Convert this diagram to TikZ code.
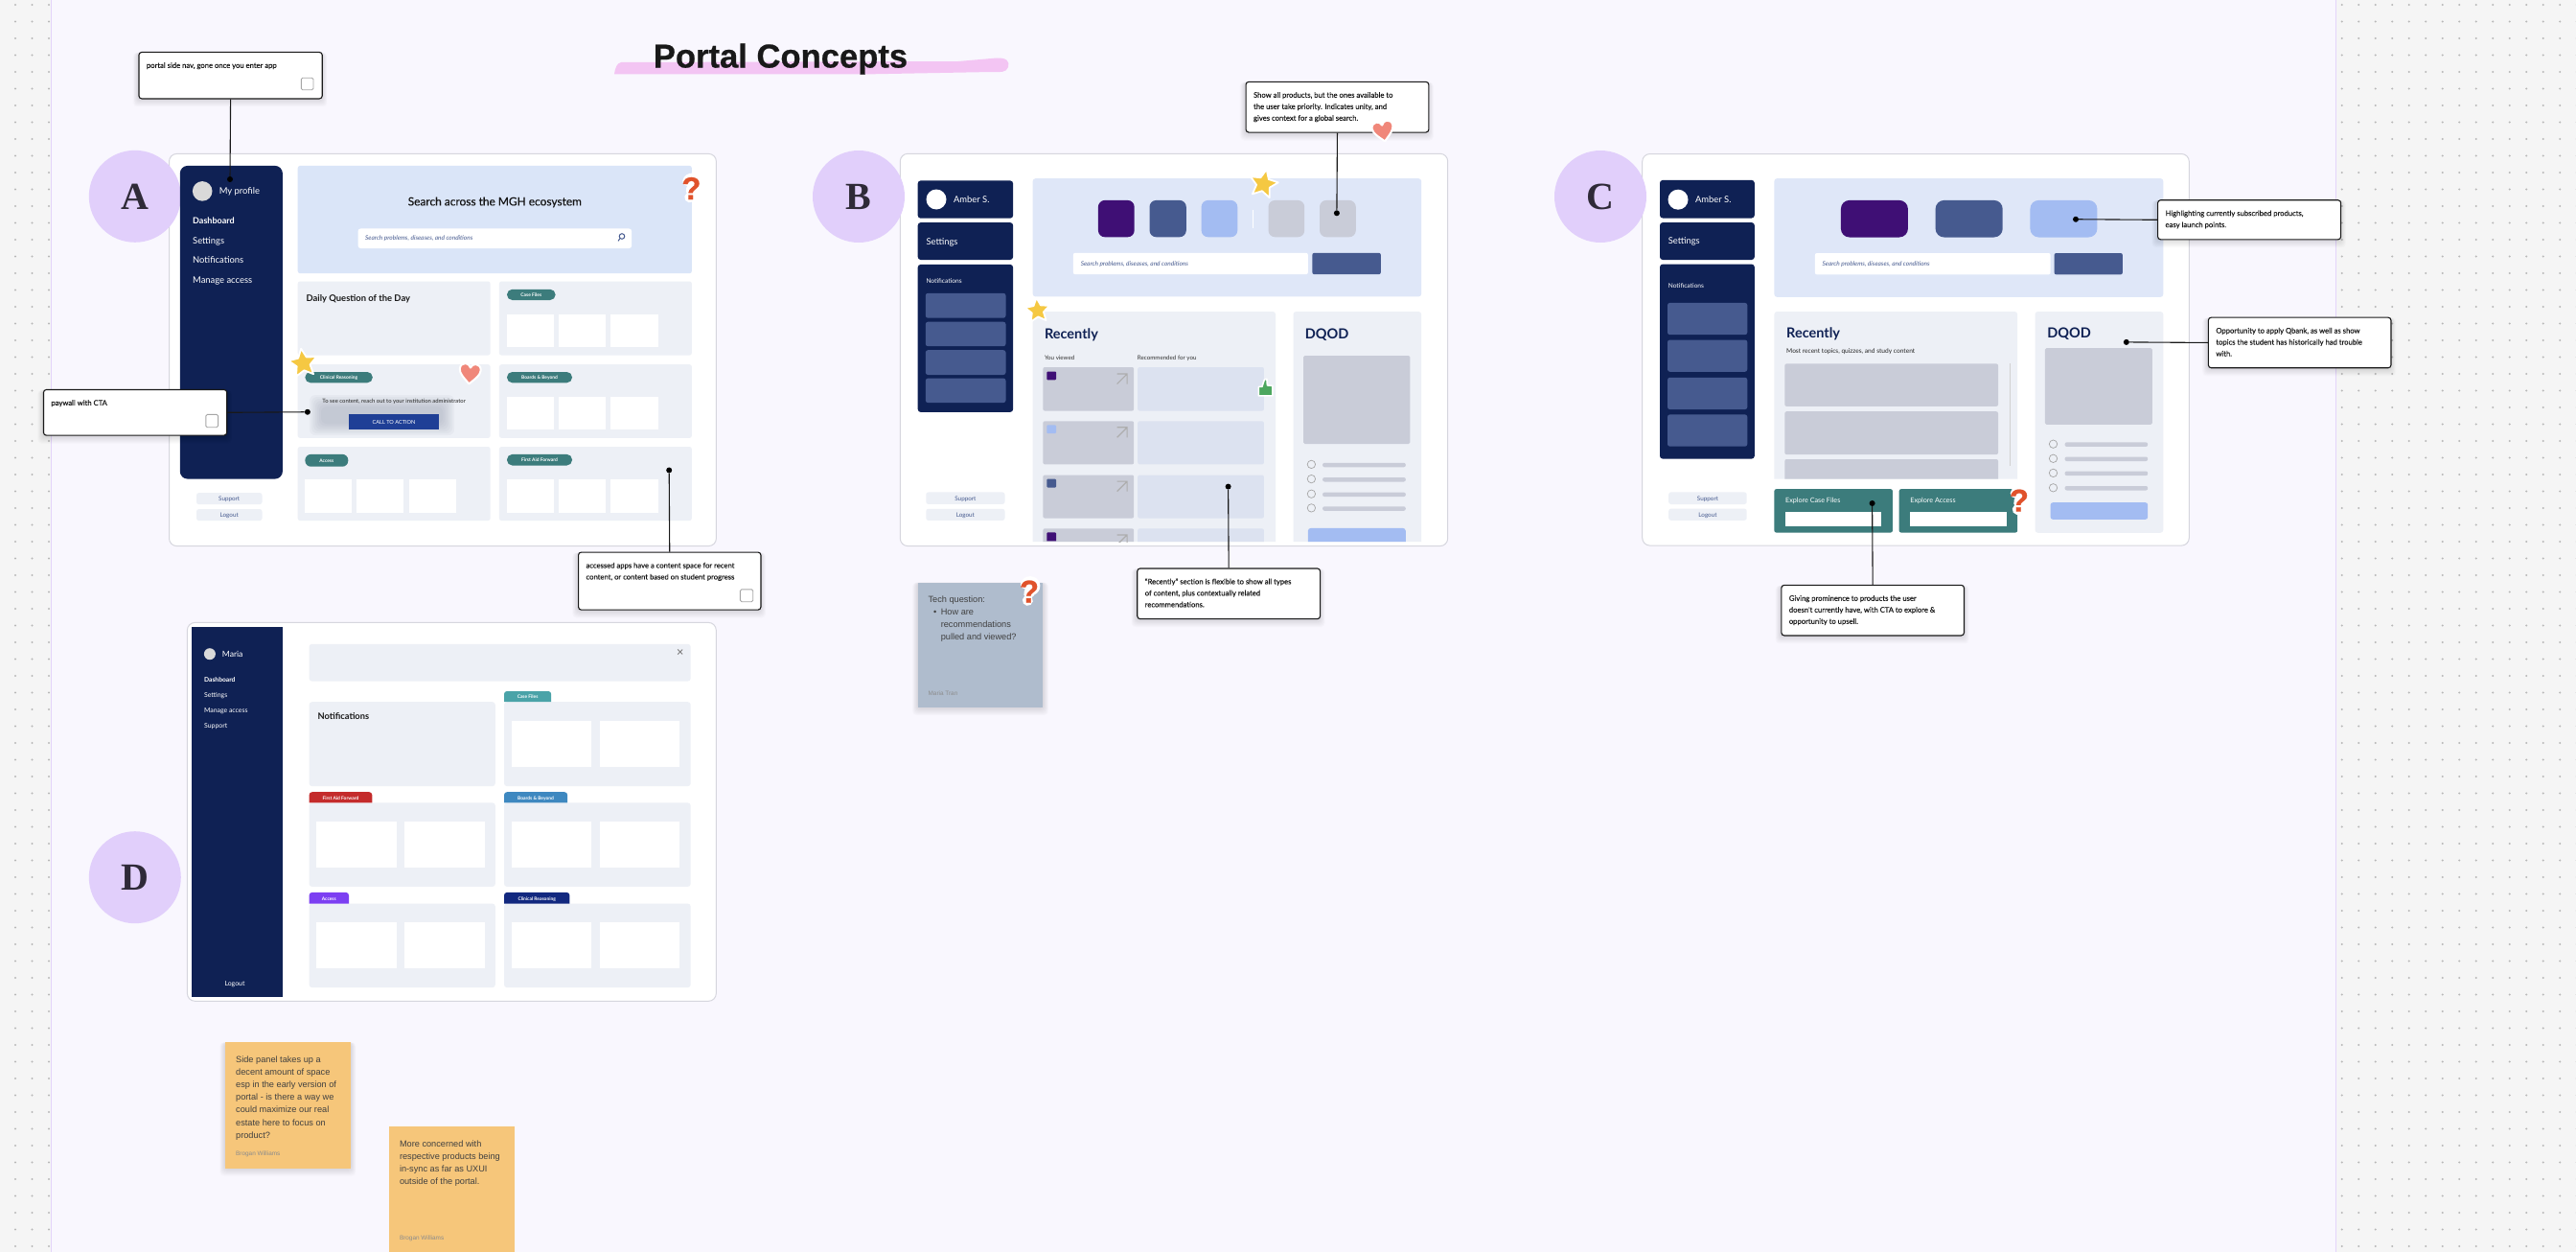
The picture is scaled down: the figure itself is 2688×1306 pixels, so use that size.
\documentclass[tikz,border=0pt]{standalone}
\usepackage{fontspec}
\usetikzlibrary{shapes.geometric}
\setmainfont{Liberation Sans}
\newfontfamily\ui{Lato}
\newfontfamily\um[FakeBold=0.3]{Lato}
\newfontfamily\nt[FakeBold=0.15]{Lato}
\newfontfamily\ser{Liberation Serif}
\newfontfamily\lib{Liberation Sans}
\newfontfamily\ttl[BoldFeatures={FakeBold=0.6}]{Liberation Sans}
\newcommand\ff[1]{\fontsize{#1}{#1}\selectfont}
\definecolor{navy}{HTML}{0F2154}
\definecolor{panel}{HTML}{EDF0F6}
\definecolor{hero}{HTML}{DFE7F8}
\definecolor{heroA}{HTML}{DAE5F8}
\definecolor{teal}{HTML}{3C7C7C}
\definecolor{mid}{HTML}{465A8F}
\definecolor{lightb}{HTML}{A3BCF2}
\definecolor{purp}{HTML}{3F0F75}
\definecolor{gry}{HTML}{C9CCD8}
\definecolor{cardb}{HTML}{DCE2F0}
\definecolor{lav}{HTML}{E1CFFB}
\definecolor{page}{HTML}{F9F7FE}
\definecolor{outer}{HTML}{F5F5F5}
\definecolor{qor}{HTML}{E0522B}
\definecolor{sal}{HTML}{F0877A}
\definecolor{yel}{HTML}{F5C842}
\definecolor{thumbg}{HTML}{4CA65E}
\definecolor{orangey}{HTML}{F6C67A}
\definecolor{slate}{HTML}{AFBCCD}
\definecolor{edgel}{HTML}{E3D4FA}
\definecolor{pinkb}{HTML}{F3C5F3}
\definecolor{ctab}{HTML}{1F3F96}
\definecolor{tabcase}{HTML}{4AA3A8}
\definecolor{tabfirst}{HTML}{C42B2B}
\definecolor{tabboards}{HTML}{3E88C0}
\definecolor{tabacc}{HTML}{7C3FF2}
\definecolor{tabclin}{HTML}{12287F}
\definecolor{framec}{HTML}{D6D6DE}
\definecolor{lettc}{HTML}{2F2A38}
\definecolor{blurc}{HTML}{8F95A8}
\tikzset{
  frame/.style={fill=white,draw=framec,line width=1pt,rounded corners=8pt},
  letter/.style={circle,fill=lav,minimum size=96pt,inner sep=0pt,font=\ser\bfseries\ff{40},text=lettc},
  dotn/.style={circle,fill=black,inner sep=0pt,minimum size=6pt},
  conn/.style={line width=1.1pt,draw=black!90},
  noteb/.style={draw=black!90,line width=1.1pt,fill=white,rounded corners=3pt,inner xsep=8pt,inner ysep=8pt,anchor=north west,align=left,text=black!90},
  starn/.style={star,star points=5,star point ratio=2.1,fill=yel,draw=white,line width=1.8pt,inner sep=0pt,line join=round},
  nav/.style={font=\ui\ff{9.4},text=white},
  navb/.style={font=\ui\bfseries\ff{9},text=white},
  snav/.style={font=\ui\ff{6.6},text=white},
  smal/.style={font=\ui\ff{6.3},text=mid,anchor=center},
  pill/.style={font=\ui\bfseries\ff{4.9},text=white,anchor=center},
  srch/.style={font=\ui\itshape\ff{6.5},text=mid},
  heading/.style={font=\ui\bfseries\ff{14.5},text=navy},
  stick/.style={font=\lib\ff{9.2},text=black!75},
  byline/.style={font=\lib\ff{6.4},text=black!45},
}
\newcommand\rr[6]{\fill[#1,rounded corners=#2pt] (#3,#4) rectangle (#5,#6);}
\newcommand\rt[6]{\fill[#1] (#3,#6) [rounded corners=#2pt] -- (#3,#4) -- (#5,#4) [sharp corners] -- (#5,#6) -- cycle;}
\newcommand\lbl[5][]{\node[anchor=west,inner sep=0pt,yshift=-1.2pt,#1] (#2) at (#3,#4) {\strut#5};}
\newcommand\softsh[5]{\foreach \k in {1,...,8}{\fill[black,opacity=.014,rounded corners=4pt] (#1-\k*.7,#2+#5) rectangle (#3+\k*.7,#4+\k+#5);}}
\newcommand\cbx[4]{\draw[draw=black!35,fill=white,line width=.9pt,rounded corners=1.5pt] (#1,#2) rectangle (#3,#4);}
\newcommand\notebx[6]{%
  \softsh{#2}{#3}{#4}{#5}{1}
  \pgfmathsetmacro\nw{#4-#2-16}\pgfmathsetmacro\nh{#5-#3-16}%
  \node[noteb] (#1) at (#2,#3) {\parbox[c][\nh pt][t]{\nw pt}{\raggedright\nt\fontsize{7.65}{12}\selectfont\strut #6}};}
\newcommand\heartn[4]{\begin{scope}[shift={(#1,#2)},rotate=#3,scale=#4]
  \draw[fill=sal,draw=white,line width=2pt,line join=round] (0,10) .. controls (-6,4) and (-11,0) .. (-11,-5) .. controls (-11,-9) and (-8,-11) .. (-5.5,-11) .. controls (-3,-11) and (-1,-9.5) .. (0,-7) .. controls (1,-9.5) and (3,-11) .. (5.5,-11) .. controls (8,-11) and (11,-9) .. (11,-5) .. controls (11,0) and (6,4) .. (0,10) -- cycle;
\end{scope}}
\newcommand\qm[3]{\begin{scope}[shift={(#2,#3)},rotate=-10]
  \draw[white,line width=11pt,line cap=round,line join=round] (-5,-7) .. controls (-4,-12) and (5,-12) .. (5,-6) .. controls (5,-2) and (0,-2) .. (0,2);
  \fill[white] (0,9.5) circle (5.5);
  \node[font=\ttl\bfseries\ff{33},text=qor,inner sep=0pt] (#1) at (0,0) {?};
\end{scope}}
\newcommand\arrowi[2]{\draw[draw=black!32,line width=1.2pt] (#1,#2+10.5) -- (#1+10.5,#2) (#1,#2) -- (#1+10.5,#2) -- (#1+10.5,#2+10.5);}
\begin{document}
\begin{tikzpicture}[x=1pt,y=-1pt]
\path[use as bounding box] (0,0) rectangle (2688,1306);
\clip (0,0) rectangle (2688,1306);
\fill[outer] (0,0) rectangle (2688,1306);
\foreach \i in {0,...,14}{\foreach \j in {0,...,74}{\fill[black!28] (2443.7+17.5*\i,5+17.5*\j) circle (1.1);}}
\foreach \i in {0,1,2}{\foreach \j in {0,...,74}{\fill[black!28] (16+17.5*\i,5+17.5*\j) circle (1.1);}}
\fill[page] (53.6,-2) rectangle (2437.7,1310);
\draw[edgel,line width=1.2pt] (53.6,-2) -- (53.6,1310) (2437.7,-2) -- (2437.7,1310);

% title
\fill[pinkb] (641,77.5) .. controls (642,70) and (644,66) .. (648,65) -- (1000,64) -- (1040,60.5) .. controls (1050,60) and (1054,64) .. (1052,70) .. controls (1050,76) and (1044,75) .. (1035,75) -- (900,77.5) -- cycle;
\node[font=\ttl\bfseries\ff{34.6},text=black!90,inner sep=0pt,anchor=base] (title) at (814.5,70.5) {Portal Concepts};

%% ---------- A
\draw[frame] (176.5,160.4) rectangle (747.4,569.6);
\node[letter] (circA) at (140.8,204.8) {A};
\rr{navy}{8}{187.8}{172.9}{294.9}{499.6}
\fill[black!15] (211.2,199.4) circle (10.3);
\lbl[nav]{aProf}{228.6}{199.4}{My profile}
\lbl[navb]{aDash}{201}{230.5}{Dashboard}
\lbl[nav]{aSet}{201}{251.2}{Settings}
\lbl[nav]{aNot}{201}{271.6}{Notifications}
\lbl[nav]{aMan}{201}{292.7}{Manage access}
\rr{panel}{2.5}{205}{514.1}{273.5}{526.1}
\rr{panel}{2.5}{205}{531.1}{273.5}{543.1}
\lbl[smal]{aSup}{239.2}{520.1}{Support}
\lbl[smal]{aLog}{239.2}{537.1}{Logout}
\rr{heroA}{2.5}{310.7}{172.9}{721.9}{285.2}
\lbl[font=\um\ff{11.9},text=black!92,anchor=center]{aHero}{516.3}{210.6}{Search across the MGH ecosystem}
\rr{white}{3}{373.5}{238.4}{659.2}{259.1}
\lbl[srch]{aSrch}{381}{248.3}{Search problems, diseases, and conditions}
\draw[mid,line width=1pt] (649,246.5) circle (2.8) (647,248.6) -- (645,251.4);
\foreach \x/\xx in {310.7/511.7,520.9/721.9}{\foreach \y/\yy in {293.5/370.6,380.2/456.9,466/543.1}{\rr{panel}{2.5}{\x}{\y}{\xx}{\yy}}}
\lbl[font=\ui\bfseries\ff{9.4},text=black!90]{aDq}{319.4}{311}{Daily Question of the Day}
\rr{teal}{5.5}{529}{301.8}{579.6}{313}
\lbl[pill]{aCase}{554.3}{307.4}{Case Files}
\rr{teal}{5.5}{529}{388}{597}{399.3}
\lbl[pill]{aBoards}{563}{393.6}{Boards \& Beyond}
\rr{teal}{5.5}{529}{473.9}{597}{485.5}
\lbl[pill]{aFirst}{563}{479.7}{First Aid Forward}
\rr{teal}{5.5}{318.4}{388}{388.8}{399.3}
\lbl[pill]{aClin}{353.6}{393.6}{Clinical Reasoning}
\rr{teal}{6}{318.4}{473.9}{363.3}{486.7}
\lbl[pill]{aAcc}{340.8}{480.3}{Access}
\foreach \y/\yy in {327.5/362,413.8/448.2,499.6/534.8}{\foreach \x/\xx in {529/578,583.2/632.1,637.2/686.7}{\fill[white] (\x,\y) rectangle (\xx,\yy);}}
\foreach \x/\xx in {317.9/366.8,372.4/421.4,426.5/476}{\fill[white] (\x,499.6) rectangle (\xx,534.8);}
\foreach \k in {0,...,6}{\fill[blurc,opacity=.07,rounded corners=6pt] (335-2*\k,424-2*\k) rectangle (462+2*\k,442+2*\k);}
\lbl[font=\ui\ff{5.9},text=black!85,anchor=center]{aPay}{411.2}{418.3}{To see content, reach out to your institution administrator}
\fill[ctab] (363.8,432) rectangle (458.2,448.2);
\lbl[font=\ui\ff{5.6},text=white,anchor=center]{aCta}{411}{440}{CALL TO ACTION}
\node[starn,minimum size=31pt,rotate=8] (aStar) at (316.3,379) {};
\heartn{490.3}{390.5}{-5}{1}
\qm{qA}{721.4}{196.5}

%% ---------- B
\draw[frame] (939.3,160.3) rectangle (1510.7,569.6);
\node[letter] (circB) at (896,205) {B};
\rr{navy}{3}{957.7}{188.4}{1057.1}{227.7}
\rr{navy}{3}{957.7}{232.1}{1057.1}{271}
\rr{navy}{3}{957.7}{275.9}{1057.1}{429.9}
\fill[white] (977,208) circle (10.5);
\lbl[nav]{bAmb}{994.9}{208}{Amber S.}
\lbl[nav]{bSet}{966.3}{251.8}{Settings}
\lbl[snav]{bNot}{966.3}{292.4}{Notifications}
\foreach \y/\yy in {305.8/331.7,335.7/361.2,365.2/391,394.6/420.1}{\rr{mid}{2.5}{965.8}{\y}{1049.5}{\yy}}
\rr{panel}{2.5}{966.3}{513.4}{1048.5}{525.9}
\rr{panel}{2.5}{966.3}{530.8}{1048.5}{542.9}
\lbl[smal]{bSup}{1007.4}{519.6}{Support}
\lbl[smal]{bLog}{1007.4}{536.8}{Logout}
\rr{hero}{3}{1077.6}{186.2}{1483.2}{309.4}
\rr{purp}{7}{1145.9}{208.9}{1183.7}{247.3}
\rr{mid}{7}{1199.5}{208.9}{1237.8}{247.3}
\rr{lightb}{7}{1253.6}{208.9}{1291.3}{247.3}
\fill[white] (1307.2,218.8) rectangle (1308.2,238.4);
\rr{gry}{7}{1323.5}{208.9}{1361.2}{247.3}
\rr{gry}{7}{1377}{208.9}{1414.8}{247.3}
\rr{white}{2}{1119.9}{263.8}{1364.8}{286.2}
\lbl[srch]{bSrch}{1127.6}{275}{Search problems, diseases, and conditions}
\rr{mid}{2}{1369.4}{263.8}{1440.8}{286.2}
\rt{panel}{3}{1077.6}{325}{1331.1}{565.2}
\lbl[heading]{bRec}{1089.8}{348.7}{Recently}
\lbl[font=\ui\ff{6.2},text=black!80]{bYou}{1089.8}{372.8}{You viewed}
\lbl[font=\ui\ff{6.2},text=black!80]{bRfy}{1186.7}{372.8}{Recommended for you}
\foreach \y/\yy/\c/\sa/\sb in {383/428.6/purp/387.5/396.4,439.3/484.4/lightb/443.3/452.2,495.5/540.6/mid/499.6/508.5}{
  \rr{gry}{2}{1088.3}{\y}{1183.2}{\yy}
  \rr{cardb}{2}{1187.2}{\y}{1318.9}{\yy}
  \rr{\c}{1}{1092.3}{\sa}{1102}{\sb}
  \arrowi{1165.6}{\sa+2.5}
}
\rt{gry}{2}{1088.3}{551.3}{1183.2}{565.2}
\rt{cardb}{2}{1187.2}{551.3}{1318.9}{565.2}
\rt{purp}{1}{1092.3}{555.4}{1102}{564.3}
\begin{scope}
\clip (1160,550) rectangle (1180,565.2);
\arrowi{1165.6}{557.9}
\end{scope}
\rt{panel}{3}{1349.5}{325}{1483.2}{565.2}
\lbl[heading]{bDq}{1361.7}{348.7}{DQOD}
\rr{gry}{1.5}{1360.2}{371}{1471.4}{463}
\foreach \y in {484.4,499.6,515.2,529.9}{
  \draw[black!35,line width=.7pt] (1368.4,\y) circle (4.2);
  \rr{gry}{2}{1380.1}{\y-1.6}{1466.8}{\y+2.9}
}
\rt{lightb}{3}{1364.8}{550.9}{1466.8}{565.2}
\node[starn,minimum size=31pt,rotate=-12] (bStar) at (1318.4,192) {};
\node[starn,minimum size=27pt,rotate=5] (cStar) at (1082.7,324) {};
\begin{scope}[shift={(1320.9,404.9)}]
\draw[fill=thumbg,draw=white,line width=1.6pt,line join=round] (-7.5,-1.5) -- (-4,-1.5) -- (-1.5,-9) -- (1,-9.5) -- (1.5,-3) -- (7,-2.5) -- (7,8) -- (-7.5,8) -- cycle;
\end{scope}
% sticky
\softsh{957.7}{607.6}{1088.3}{738}{0}
\fill[slate] (957.7,607.6) rectangle (1088.3,738);
\lbl[stick]{tq}{968.4}{625}{Tech question:}
\lbl[stick]{tb}{974}{638.4}{•}
\lbl[stick]{t1}{981.6}{638.4}{How are}
\lbl[stick]{t2}{981.6}{651.3}{recommendations}
\lbl[stick]{t3}{981.6}{664.3}{pulled and viewed?}
\lbl[byline]{tby}{968.4}{722.8}{Maria Tran}
\qm{qB}{1074}{617}

%% ---------- C
\draw[frame] (1713.7,160.5) rectangle (2284.3,569.1);
\node[letter] (circC) at (1670,205) {C};
\rr{navy}{3}{1732}{187.9}{1830.8}{227.5}
\rr{navy}{3}{1732}{232.1}{1830.8}{271}
\rr{navy}{3}{1732}{275.6}{1830.8}{478.6}
\fill[white] (1751,208.2) circle (10.5);
\lbl[nav]{cAmb}{1768.8}{208.2}{Amber S.}
\lbl[nav]{cSet}{1740.6}{251.7}{Settings}
\lbl[snav]{cNot}{1740.6}{297.7}{Notifications}
\foreach \y/\yy in {315.9/349.2,354.5/387.8,393.8/427.1,432.4/465.7}{\rr{mid}{2.5}{1740}{\y}{1823.3}{\yy}}
\rr{panel}{2.5}{1741.2}{513.4}{1822.7}{526}
\rr{panel}{2.5}{1741.2}{530.6}{1822.7}{542.8}
\lbl[smal]{cSup}{1782}{519.7}{Support}
\lbl[smal]{cLog}{1782}{536.7}{Logout}
\rr{hero}{3}{1851.4}{186.1}{2257.3}{309.9}
\rr{purp}{9}{1920.9}{208.9}{1990.9}{247.5}
\rr{mid}{9}{2019.6}{208.9}{2089.7}{247.5}
\rr{lightb}{9}{2118.4}{208.9}{2188.4}{247.5}
\rr{white}{2}{1893.9}{264}{2139.6}{286.4}
\lbl[srch]{cSrch}{1901.4}{275.2}{Search problems, diseases, and conditions}
\rr{mid}{2}{2143.6}{264}{2214.8}{286.4}
\rt{panel}{3}{1851.4}{325}{2105.2}{499.7}
\lbl[heading]{cRec}{1864}{348.5}{Recently}
\lbl[font=\ui\ff{6.6},text=black!85]{cMost}{1864}{365.4}{Most recent topics, quizzes, and study content}
\rr{gry}{2}{1862.3}{379.4}{2085}{423.9}
\rr{gry}{2}{1862.3}{429.2}{2085}{474.1}
\rt{gry}{2}{1862.3}{479}{2085}{499.7}
\fill[black!18] (2097.2,379.4) rectangle (2098.2,486);
\rr{teal}{2}{1851.4}{510.2}{1974.9}{555.5}
\rr{teal}{2}{1981.7}{510.2}{2105.2}{555.5}
\lbl[font=\ui\ff{7.2},text=white]{cExC}{1862.9}{522.1}{Explore Case Files}
\lbl[font=\ui\ff{7.2},text=white]{cExA}{1993.2}{522.1}{Explore Access}
\fill[white] (1862.9,533.7) rectangle (1963.4,548.8);
\fill[white] (1993.2,533.7) rectangle (2093.7,548.8);
\rr{panel}{3}{2123.5}{325}{2257.3}{555.8}
\lbl[heading]{cDq}{2136.2}{348.5}{DQOD}
\rr{gry}{1.5}{2133.9}{363.2}{2245.8}{442.9}
\foreach \y in {463.2,478.3,493.4,508.8}{
  \draw[black!35,line width=.7pt] (2142.5,\y) circle (4.2);
  \rr{gry}{2}{2154.5}{\y-1.8}{2241.2}{\y+2.7}
}
\rr{lightb}{2.5}{2139.6}{524.2}{2241.2}{541.8}
\qm{qC}{2106.9}{522.1}

%% ---------- D
\draw[frame] (195.4,649.4) rectangle (747.3,1044.3);
\node[letter] (circD) at (140.8,915.2) {D};
\fill[navy] (200,653.7) rectangle (294.6,1039.6);
\fill[black!15] (218.9,682.2) circle (6);
\lbl[font=\ui\ff{8.6},text=white]{dMar}{231.7}{682.2}{Maria}
\lbl[font=\ui\bfseries\ff{6.7},text=white]{dDash}{212.9}{708.9}{Dashboard}
\lbl[font=\ui\ff{6.9},text=white]{dSet}{212.9}{724.8}{Settings}
\lbl[font=\ui\ff{6.9},text=white]{dMan}{212.9}{740.8}{Manage access}
\lbl[font=\ui\ff{6.9},text=white]{dSup}{212.9}{756.8}{Support}
\lbl[font=\ui\ff{6.9},text=white,anchor=center]{dLog}{245}{1025.8}{Logout}
\rr{panel}{3}{322.6}{671.8}{720.7}{710.6}
\draw[black!50,line width=.8pt] (707.2,677.5) -- (712.2,682.5) (707.2,682.5) -- (712.2,677.5);
\foreach \y/\yy in {732.2/820.1,837.4/924.9,942.6/1030.1}{
  \rr{panel}{3}{322.6}{\y}{516.8}{\yy}
  \rr{panel}{3}{526}{\y}{720.7}{\yy}
}
\lbl[font=\ui\bfseries\ff{9.3},text=black!90]{dNot}{331.3}{747.3}{Notifications}
\rt{tabcase}{3}{526}{721}{575.2}{732.2}
\rt{tabfirst}{3}{322.6}{826.2}{388.3}{837.4}
\rt{tabboards}{3}{526}{826.2}{592.1}{837.4}
\rt{tabacc}{3}{322.6}{930.9}{364}{942.6}
\rt{tabclin}{3}{526}{930.9}{594.4}{942.6}
\lbl[pill]{dCase}{550.6}{726.6}{Case Files}
\lbl[pill]{dFirst}{355.4}{831.8}{First Aid Forward}
\lbl[pill]{dBoards}{559}{831.8}{Boards \& Beyond}
\lbl[pill]{dAcc}{343.3}{936.8}{Access}
\lbl[pill]{dClin}{560.2}{936.8}{Clinical Reasoning}
\foreach \y/\yy in {857.2/905,962.4/1009.8}{\foreach \x/\xx in {330.4/414,422.3/505.8}{\fill[white] (\x,\y) rectangle (\xx,\yy);}}
\foreach \y/\yy in {752/799.9,857.2/905,962.4/1009.8}{\foreach \x/\xx in {533.8/617.4,626.1/709.2}{\fill[white] (\x,\y) rectangle (\xx,\yy);}}
% stickies
\softsh{234.9}{1087.4}{365.8}{1218.5}{0}
\fill[orangey] (234.9,1087.4) rectangle (365.8,1218.5);
\lbl[stick]{s1}{246}{1105.5}{Side panel takes up a}
\lbl[stick]{s2}{246}{1118.5}{decent amount of space}
\lbl[stick]{s3}{246}{1131.4}{esp in the early version of}
\lbl[stick]{s4}{246}{1144.8}{portal - is there a way we}
\lbl[stick]{s5}{246}{1157.7}{could maximize our real}
\lbl[stick]{s6}{246}{1171}{estate here to focus on}
\lbl[stick]{s7}{246}{1184}{product?}
\lbl[byline]{sb}{246}{1203.4}{Brogan Williams}
\fill[orangey] (406.2,1175) rectangle (537,1310);
\lbl[stick]{u1}{416.8}{1193}{More concerned with}
\lbl[stick]{u2}{416.8}{1206}{respective products being}
\lbl[stick]{u3}{416.8}{1219}{in-sync as far as UXUI}
\lbl[stick]{u4}{416.8}{1232}{outside of the portal.}
\lbl[byline]{ub}{416.8}{1290.5}{Brogan Williams}

%% ---------- notes and connectors
\notebx{nA1}{144.4}{53.9}{335.7}{102.4}{portal side nav, gone once you enter app}
\cbx{314.3}{81.3}{327}{93.7}
\node[dotn] (dA1) at (240,187) {};
\draw[conn] (nA1.south) -- (dA1);

\notebx{nA2}{44.9}{405.9}{236.2}{453.6}{paywall with CTA}
\cbx{214.8}{432.4}{227.6}{445.7}
\node[dotn] (dA2) at (320.9,429.75) {};
\draw[conn] (nA2.east) -- (dA2);

\notebx{nA3}{603}{575.5}{793.4}{635.6}{accessed apps have a content space for recent\\\strut content, or content based on student progress}
\cbx{772.4}{614.8}{785.7}{627.7}
\node[dotn] (dA3) at (698.2,490.5) {};
\draw[conn] (nA3.north) -- (dA3);

\notebx{nB1}{1299.5}{84.8}{1490.3}{137.5}{Show all products, but the ones available to\\\strut the user take priority. Indicates unity, and\\\strut gives context for a global search.}
\node[dotn] (dB1) at (1394.9,222.3) {};
\draw[conn] (nB1.south) -- (dB1);
\heartn{1443.4}{137.5}{10}{1}

\notebx{nB2}{1186.2}{592.4}{1377}{645.1}{“Recently” section is flexible to show all types\\\strut of content, plus contextually related\\\strut recommendations.}
\node[dotn] (dB2) at (1281.6,507.6) {};
\draw[conn] (nB2.north) -- (dB2);

\notebx{nC1}{2251}{208.2}{2442.1}{249.3}{Highlighting currently subscribed products,\\\strut easy launch points.}
\node[dotn] (dC1) at (2166,228.75) {};
\draw[conn] (nC1.west) -- (dC1);

\notebx{nC2}{2303.8}{330.6}{2494.4}{383.2}{Opportunity to apply Qbank, as well as show\\\strut topics the student has historically had trouble\\\strut with.}
\node[dotn] (dC2) at (2218.8,356.9) {};
\draw[conn] (nC2.west) -- (dC2);

\notebx{nC3}{1858.3}{609.8}{2048.9}{662.4}{Giving prominence to products the user\\\strut doesn't currently have, with CTA to explore \&\\\strut opportunity to upsell.}
\node[dotn] (dC3) at (1953.6,525) {};
\draw[conn] (nC3.north) -- (dC3);
\end{tikzpicture}
\end{document}
